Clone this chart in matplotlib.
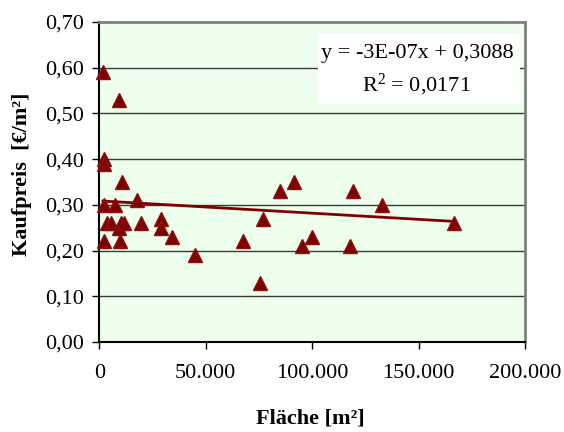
import matplotlib
matplotlib.use("Agg")
import matplotlib.pyplot as plt
from matplotlib.ticker import FuncFormatter
from matplotlib.patches import Rectangle
import numpy as np

# ---- data ----
flaeche = [1700, 2200, 2200, 9400, 10500, 2000, 7200, 17900,
           3500, 5300, 9400, 10200, 11700, 19500, 29100, 29100,
           34300, 2300, 9900, 44800, 67500, 75400, 77100, 85100,
           91700, 95200, 99900, 117800, 119200, 133000, 166800]
kaufpreis = [0.59, 0.40, 0.39, 0.53, 0.35, 0.30, 0.30, 0.31,
             0.26, 0.26, 0.25, 0.26, 0.26, 0.26, 0.27, 0.25,
             0.23, 0.22, 0.22, 0.19, 0.22, 0.13, 0.27, 0.33,
             0.35, 0.21, 0.23, 0.21, 0.33, 0.30, 0.26]
trend_slope = -2.7e-07
trend_intercept = 0.3088
eq_text = "y = -3E-07x + 0,3088"
r2_text = r"R$^{2}$ = 0,0171"
x_ticks = [0, 50000, 100000, 150000, 200000]
y_ticks = [0.0, 0.1, 0.2, 0.3, 0.4, 0.5, 0.6, 0.7]

plt.rcParams['font.family'] = ['Liberation Serif', 'DejaVu Serif']
plt.rcParams['mathtext.fontset'] = 'custom'
plt.rcParams['mathtext.rm'] = 'Liberation Serif'
plt.rcParams['mathtext.it'] = 'Liberation Serif'

fig = plt.figure(figsize=(5.64, 4.32), dpi=100)
W, H = 564, 432
left, right, top, bottom = 99.3, 525, 22, 342
ax = fig.add_axes([left / W, 1 - bottom / H, (right - left) / W, (bottom - top) / H])
ax.set_facecolor('#EEFFEE')

ax.set_xlim(0, 200000)
ax.set_ylim(0, 0.7)
ax.set_xticks(x_ticks)
ax.set_yticks(y_ticks)
ax.xaxis.set_major_formatter(FuncFormatter(lambda v, p: f"{int(v):,}".replace(",", ".")))
ax.yaxis.set_major_formatter(FuncFormatter(lambda v, p: f"{v:.2f}".replace(".", ",")))
ax.tick_params(axis='both', labelsize=16, direction='out', length=5, width=1, color='black')
ax.tick_params(axis='x', pad=11)
ax.tick_params(axis='y', pad=6)

for yv in y_ticks[1:-1]:
    ax.axhline(yv, color='#3a3a3a', lw=1.0, zorder=1)

for s in ['left', 'bottom']:
    ax.spines[s].set_color('black')
    ax.spines[s].set_linewidth(1.5)
for s in ['top', 'right']:
    ax.spines[s].set_color('#808080')
    ax.spines[s].set_linewidth(2)

# trend line
xs = np.array([min(flaeche), max(flaeche)])
ax.plot(xs, trend_slope * xs + trend_intercept, color='#800000', lw=2, zorder=3)

ax.plot(flaeche, kaufpreis, linestyle='none', marker='^', markersize=10,
        color='#800000', markeredgecolor='#8B1010', zorder=4, clip_on=False)

# equation box
ax.add_patch(Rectangle((0.514, 0.744), 0.474, 0.222, transform=ax.transAxes,
                       facecolor='white', edgecolor='none', zorder=5))
ax.text(0.746, 0.903, eq_text, transform=ax.transAxes, ha='center', va='center',
        fontsize=16, zorder=6)
ax.text(0.746, 0.803, r2_text, transform=ax.transAxes, ha='center', va='center',
        fontsize=16, zorder=6)

fig.text(310 / W, 1 - 418 / H, "Fläche [m²]", ha='center', va='center',
         fontsize=16, fontweight='bold')
fig.text(22 / W, 1 - 174 / H, "Kaufpreis  [€/m²]", ha='center', va='center',
         fontsize=16, fontweight='bold', rotation=90)

fig.savefig("out.png", dpi=100)
